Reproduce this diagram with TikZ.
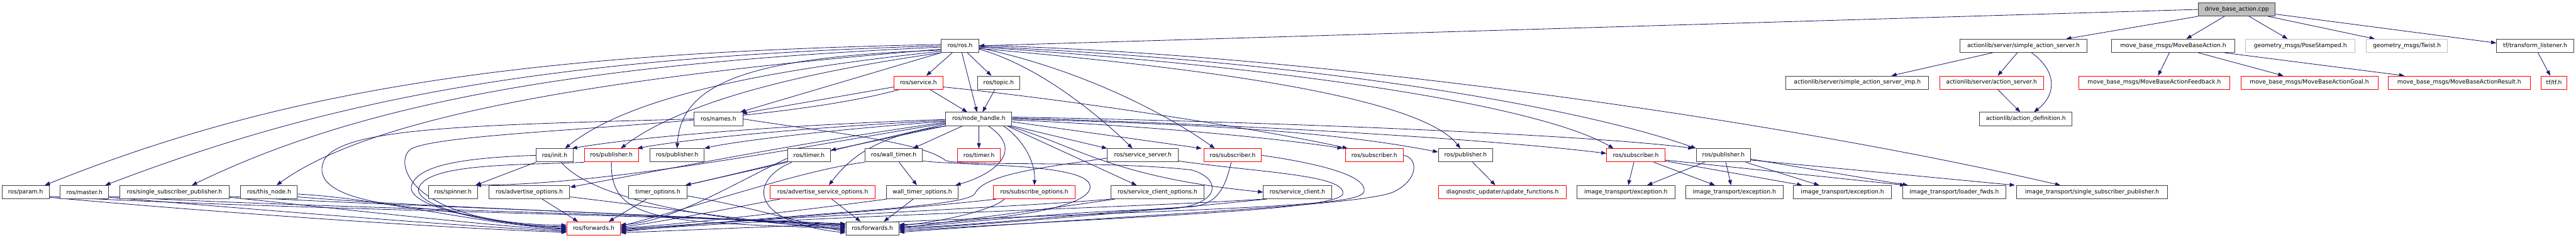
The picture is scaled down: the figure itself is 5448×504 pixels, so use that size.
\documentclass[tikz,border=0pt]{standalone}
\usepackage{fontspec}
\setmainfont{DejaVu Sans}
\usetikzlibrary{arrows.meta}
\definecolor{edgeblue}{HTML}{191970}
\definecolor{nodered}{HTML}{FF0000}
\definecolor{nodegray}{HTML}{BFBFBF}
\definecolor{nodeborder}{HTML}{404040}
\newcommand\lblfont{\fontsize{12.2pt}{14pt}\selectfont}
\pgfdeclarelayer{bglayer}
\pgfdeclarelayer{edgelayer}
\pgfsetlayers{bglayer,edgelayer,main}
\tikzset{
  box/.style={draw=nodeborder, line width=1.3pt, fill=white, minimum height=28pt, inner sep=0pt, font=\lblfont, text=black},
  redbox/.style={box, draw=nodered},
  graybox/.style={box, draw=nodegray},
  rootbox/.style={box, fill=nodegray},
  dep/.style={draw=edgeblue, line width=1.1pt, -{Triangle[length=11pt,width=8pt]}},
}
\begin{document}
\begin{tikzpicture}[x=1pt,y=-1pt]
\begin{pgfonlayer}{bglayer}
\fill[white] (0,0) rectangle (5448,504);
\end{pgfonlayer}
\useasboundingbox (0,0) rectangle (5448,504);
% row 0
\node[rootbox, minimum width=163pt] (root) at (4730.5,20) {drive\_base\_action.cpp};
% row 1
\node[box, minimum width=79pt] (ros) at (2030.5,97) {ros/ros.h};
\node[box, minimum width=269pt] (sas) at (4279.5,97) {actionlib/server/simple\_action\_server.h};
\node[box, minimum width=260pt] (mba) at (4596,97) {move\_base\_msgs/MoveBaseAction.h};
\node[graybox, minimum width=232pt] (pose) at (4865,97) {geometry\_msgs/PoseStamped.h};
\node[graybox, minimum width=171pt] (twist) at (5090.5,97) {geometry\_msgs/Twist.h};
\node[box, minimum width=163pt] (tfl) at (5361.5,97) {tf/transform\_listener.h};
% row 2
\node[redbox, minimum width=103pt] (service) at (1942.5,175) {ros/service.h};
\node[box, minimum width=90pt] (topic) at (2112,175) {ros/topic.h};
\node[box, minimum width=302pt] (sasimp) at (3928,175) {actionlib/server/simple\_action\_server\_imp.h};
\node[redbox, minimum width=220pt] (as) at (4212,175) {actionlib/server/action\_server.h};
\node[redbox, minimum width=320pt] (fb) at (4556,175) {move\_base\_msgs/MoveBaseActionFeedback.h};
\node[redbox, minimum width=290pt] (goal) at (4884,175) {move\_base\_msgs/MoveBaseActionGoal.h};
\node[redbox, minimum width=300pt] (result) at (5201,175) {move\_base\_msgs/MoveBaseActionResult.h};
\node[redbox, minimum width=55pt] (tf) at (5401.5,175) {tf/tf.h};
% row 3
\node[box, minimum width=103pt] (names) at (1519.5,252) {ros/names.h};
\node[box, minimum width=140pt] (nh) at (2070,252) {ros/node\_handle.h};
\node[box, minimum width=195pt] (ad) at (4284.5,252) {actionlib/action\_definition.h};
% row 4
\node[box, minimum width=78pt] (init) at (1173,329) {ros/init.h};
\node[redbox, minimum width=114pt] (pubR) at (1293,329) {ros/publisher.h};
\node[box, minimum width=114pt] (pub1) at (1432,329) {ros/publisher.h};
\node[box, minimum width=90pt] (timer) at (1711,329) {ros/timer.h};
\node[box, minimum width=122pt] (wtimer) at (1890,329) {ros/wall\_timer.h};
\node[redbox, minimum width=91pt] (timerR) at (2070.5,329) {ros/timer.h};
\node[box, minimum width=150pt] (ss) at (2417,329) {ros/service\_server.h};
\node[redbox, minimum width=122pt] (sub1) at (2607,329) {ros/subscriber.h};
\node[redbox, minimum width=123pt] (sub2) at (2906.5,329) {ros/subscriber.h};
\node[box, minimum width=115pt] (pub2) at (3099.5,329) {ros/publisher.h};
\node[redbox, minimum width=123pt] (sub3) at (3459.5,329) {ros/subscriber.h};
\node[box, minimum width=114pt] (pub3) at (3645,329) {ros/publisher.h};
% row 5
\node[box, minimum width=100pt] (param) at (54,407) {ros/param.h};
\node[box, minimum width=103pt] (master) at (178.5,407) {ros/master.h};
\node[box, minimum width=232pt] (ssp) at (369,407) {ros/single\_subscriber\_publisher.h};
\node[box, minimum width=120pt] (thisnode) at (569,407) {ros/this\_node.h};
\node[box, minimum width=104pt] (spinner) at (958,407) {ros/spinner.h};
\node[box, minimum width=171pt] (advo) at (1119.5,407) {ros/advertise\_options.h};
\node[box, minimum width=123pt] (tops) at (1391.5,407) {timer\_options.h};
\node[redbox, minimum width=222pt] (asopts) at (1740,407) {ros/advertise\_service\_options.h};
\node[box, minimum width=151pt] (wtops) at (1950.5,407) {wall\_timer\_options.h};
\node[redbox, minimum width=173pt] (subopts) at (2187.5,407) {ros/subscribe\_options.h};
\node[box, minimum width=198pt] (scopts) at (2448,407) {ros/service\_client\_options.h};
\node[box, minimum width=144pt] (sc) at (2744,407) {ros/service\_client.h};
\node[redbox, minimum width=271pt] (duf) at (3177.5,407) {diagnostic\_updater/update\_functions.h};
\node[box, minimum width=207pt] (ex1) at (3438.5,407) {image\_transport/exception.h};
\node[box, minimum width=206pt] (ex2) at (3668,407) {image\_transport/exception.h};
\node[box, minimum width=207pt] (ex3) at (3896.5,407) {image\_transport/exception.h};
\node[box, minimum width=218pt] (lf) at (4133,407) {image\_transport/loader\_fwds.h};
\node[box, minimum width=319pt] (itssp) at (4424.5,407) {image\_transport/single\_subscriber\_publisher.h};
% row 6
\node[redbox, minimum width=113pt] (f1) at (1255.5,484) {ros/forwards.h};
\node[box, minimum width=112pt] (f2) at (1845,484) {ros/forwards.h};

\begin{pgfonlayer}{edgelayer}
% drive_base_action.cpp
\draw[dep] (root.west) -- (ros.east);
\draw[dep] (root.south west) -- ([xshift=90pt]sas.north);
\draw[dep] ([xshift=-26pt]root.south) -- ([xshift=28pt]mba.north);
\draw[dep] ([xshift=26pt]root.south) -- ([xshift=-27pt]pose.north);
\draw[dep] ([xshift=-16pt]root.south east) -- ([xshift=-68pt]twist.north);
\draw[dep] ([yshift=-10pt]root.east) -- ([yshift=6pt]tfl.west);
% actionlib, move_base, tf
\draw[dep] ([xshift=-65pt]sas.south) -- ([xshift=72pt]sasimp.north);
\draw[dep] ([xshift=-13pt]sas.south) -- ([xshift=13pt]as.north);
\draw[dep] ([xshift=17pt]sas.south) .. controls (4350,150) and (4350,200) .. ([xshift=17pt]ad.north);
\draw[dep] ([xshift=13pt]as.south) -- ([xshift=-12pt]ad.north);
\draw[dep] ([xshift=-8pt]mba.south) -- ([xshift=8pt]fb.north);
\draw[dep] ([xshift=53pt]mba.south) -- ([xshift=-55pt]goal.north);
\draw[dep] ([xshift=108pt]mba.south) -- ([xshift=-116pt]result.north);
\draw[dep] ([xshift=6pt]tfl.south) -- ([xshift=-8pt]tf.north);
% ros/ros.h
\draw[dep] (ros.176) .. controls (1100,112) and (600,190) .. ([xshift=-10pt]param.north east);
\draw[dep] (ros.180) .. controls (1150,122) and (700,210) .. ([xshift=-8pt]master.north east);
\draw[dep] (ros.184) .. controls (1200,135) and (750,225) .. ([xshift=37pt]ssp.north);
\draw[dep] (ros.190) .. controls (1250,165) and (780,250) .. ([xshift=16pt]thisnode.north);
\draw[dep] (ros.196) .. controls (1700,140) and (1350,190) .. ([xshift=22pt]init.north);
\draw[dep] (ros.200) .. controls (1720,150) and (1450,210) .. ([xshift=20pt]pubR.north);
\draw[dep] (ros.193) .. controls (1600,120) and (1440,170) .. (pub1.north);
\draw[dep] (ros.south west) -- ([xshift=-6pt]names.north east);
\draw[dep] (ros) -- (service);
\draw[dep] (ros) -- (nh);
\draw[dep] (ros) -- (topic);
\draw[dep] (ros.-10) .. controls (2200,140) and (2330,250) .. ([xshift=-22pt]ss.north);
\draw[dep] (ros.-6) .. controls (2300,150) and (2480,250) .. ([xshift=-38pt]sub1.north);
\draw[dep] (ros.-8) .. controls (2500,140) and (3000,200) .. ([xshift=-11pt]pub2.north);
\draw[dep] (ros.-4) .. controls (2700,140) and (3250,220) .. ([xshift=-47pt]sub3.north);
\draw[dep] (ros.-2) .. controls (2800,130) and (3350,230) .. ([xshift=-58pt]pub3.north);
\draw[dep] (ros.1) .. controls (2700,110) and (3700,240) .. ([xshift=-67pt]itssp.north);
% ros/service.h
\draw[dep] (service.190) -- ([xshift=-3pt,yshift=-3pt]names.north east);
\draw[dep] (service) -- (nh);
\draw[dep] (service.200) .. controls (1600,272) and (960,272) .. (870,315) .. controls (830,340) and (860,474) .. ([yshift=7pt]f1.west);
\draw[dep] (service.-10) .. controls (2300,215) and (2700,280) .. ([xshift=-56pt]sub2.north);
% ros/topic.h
\draw[dep] (topic) -- (nh);
% ros/names.h
\draw[dep] (names.west) .. controls (1000,265) and (720,270) .. (685,340) .. controls (660,400) and (750,428) .. (900,442) .. controls (1000,452) and (1100,482) .. (f1.west);
\draw[dep] (names.east) .. controls (1750,280) and (1950,300) .. (2000,340) .. controls (2030,352) and (2350,340) .. (2520,360) .. controls (2590,380) and (2580,440) .. (2460,443) .. controls (2200,450) and (2000,478) .. ([yshift=4pt]f2.east);
% ros/init.h
\draw[dep] (init.south west) -- ([xshift=-5pt]spinner.north east);
\draw[dep] (init.west) .. controls (980,334) and (880,350) .. (870,395) .. controls (862,440) and (1050,476) .. ([yshift=2pt]f1.west);
\draw[dep] ([xshift=14pt]init.south) .. controls (1250,420) and (1500,470) .. ([yshift=2pt]f2.west);
% ros/publisher.h (red)
\draw[dep] (pubR.south west) .. controls (1100,350) and (900,345) .. (885,400) .. controls (880,440) and (1050,478) .. ([yshift=4pt]f1.west);
\draw[dep] (pubR.south) .. controls (1290,470) and (1400,470) .. (f2.west);
% left row-5 nodes
\draw[dep] ([yshift=-11pt]param.east) .. controls (400,445) and (900,482) .. ([yshift=-8pt]f1.west);
\draw[dep] ([yshift=-9pt]param.east) .. controls (500,440) and (1350,455) .. ([yshift=10pt]f2.west);
\draw[dep] ([yshift=-11pt]master.east) .. controls (500,440) and (950,478) .. ([yshift=-6pt]f1.west);
\draw[dep] ([yshift=-9pt]master.east) .. controls (600,438) and (1350,452) .. ([yshift=8pt]f2.west);
\draw[dep] ([yshift=-11pt]ssp.east) .. controls (700,440) and (1000,475) .. ([yshift=-4pt]f1.west);
\draw[dep] ([yshift=-9pt]ssp.east) .. controls (800,435) and (1350,450) .. ([yshift=6pt]f2.west);
\draw[dep] ([yshift=-4pt]thisnode.east) .. controls (800,420) and (1000,472) .. ([yshift=-2pt]f1.west);
\draw[dep] ([yshift=-10pt]thisnode.east) .. controls (900,440) and (1350,450) .. ([yshift=4pt]f2.west);
\draw[dep] ([xshift=27pt]advo.south) -- ([xshift=-33pt]f1.north);
\draw[dep] ([yshift=-10pt]advo.east) .. controls (1400,440) and (1600,470) .. ([yshift=-3pt]f2.west);
\draw[dep] ([xshift=-24pt]tops.south) -- ([xshift=32pt]f1.north);
\draw[dep] ([yshift=-8pt]tops.east) .. controls (1600,440) and (1700,475) .. ([yshift=-6pt]f2.west);
% ros/timer.h
\draw[dep] (timer.south west) -- ([xshift=-4pt]tops.north east);
\draw[dep] ([yshift=-6pt]timer.west) .. controls (1550,390) and (1420,470) .. ([yshift=8pt]f1.east);
\draw[dep] ([xshift=-36pt]timer.south) .. controls (1585,380) and (1580,470) .. ([yshift=-9pt]f2.west);
% ros/wall_timer.h
\draw[dep] (wtimer) -- (wtops);
\draw[dep] (wtimer.south west) .. controls (1700,360) and (1500,430) .. ([yshift=5pt]f1.east);
\draw[dep] ([yshift=-12pt]wtimer.east) .. controls (2050,352) and (2320,345) .. (2305,400) .. controls (2290,450) and (2050,470) .. ([yshift=8pt]f2.east);
% options
\draw[dep] ([xshift=-90pt]asopts.south) .. controls (1550,440) and (1400,470) .. ([yshift=3pt]f1.east);
\draw[dep] ([xshift=19pt]asopts.south) -- ([xshift=-25pt]f2.north);
\draw[dep] ([xshift=-75pt]wtops.south) .. controls (1700,445) and (1450,475) .. ([yshift=1pt]f1.east);
\draw[dep] ([xshift=-19pt]wtops.south) -- ([xshift=24pt]f2.north);
\draw[dep] ([xshift=-80pt]subopts.south) .. controls (1950,440) and (1500,475) .. ([yshift=-1pt]f1.east);
\draw[dep] ([xshift=-63pt]subopts.south) .. controls (2100,445) and (1990,470) .. ([yshift=6pt]f2.east);
\draw[dep] (scopts.south west) .. controls (2200,436) and (1600,462) .. ([yshift=-3pt]f1.east);
\draw[dep] ([xshift=10pt]scopts.south west) .. controls (2200,445) and (2000,470) .. ([yshift=0pt]f2.east);
\draw[dep] (sc.south west) .. controls (2400,440) and (1700,458) .. ([yshift=-5pt]f1.east);
\draw[dep] ([xshift=8pt]sc.south west) .. controls (2400,450) and (2050,478) .. ([yshift=-2pt]f2.east);
% service server, subscribers
\draw[dep] ([yshift=-6pt]ss.west) .. controls (2200,355) and (2080,370) .. (2062,410) .. controls (2045,440) and (1700,450) .. ([yshift=-7pt]f1.east);
\draw[dep] ([yshift=-12pt]ss.east) .. controls (2660,365) and (2845,370) .. (2840,410) .. controls (2838,445) and (2400,458) .. ([yshift=-5pt]f2.east);
\draw[dep] ([xshift=-3pt]sub1.south) .. controls (2590,400) and (2575,432) .. (2520,438) .. controls (2300,450) and (2050,480) .. ([yshift=2pt]f2.east);
\draw[dep] (sub1.east) .. controls (2780,345) and (2890,370) .. (2885,405) .. controls (2880,440) and (2600,440) .. ([yshift=-9pt]f1.east);
\draw[dep] (sub2.east) .. controls (3000,335) and (3000,380) .. (2950,405) .. controls (2900,435) and (2400,455) .. ([yshift=-8pt]f2.east);
% ros/node_handle.h
\draw[dep] (nh) -- (timerR);
\draw[dep] ([xshift=-34pt]nh.south) -- ([xshift=41pt]wtimer.north);
\draw[dep] (nh.south west) -- ([yshift=-4pt]timer.north east);
\draw[dep] ([yshift=-5pt]nh.west) .. controls (1750,275) and (1550,300) .. (pub1.north east);
\draw[dep] ([yshift=-3pt]nh.west) .. controls (1700,270) and (1450,295) .. ([xshift=-3pt]pubR.north east);
\draw[dep] ([yshift=-1pt]nh.west) .. controls (1650,265) and (1350,290) .. ([xshift=-3pt]init.north east);
\draw[dep] ([yshift=-7pt]nh.west) .. controls (1700,300) and (1350,370) .. ([yshift=-4pt]advo.north east);
\draw[dep] ([yshift=-9pt]nh.west) .. controls (1700,310) and (1300,390) .. ([xshift=-4pt]spinner.north east);
\draw[dep] ([yshift=-11pt]nh.west) .. controls (1750,320) and (1550,370) .. ([xshift=-4pt]tops.north east);
\draw[dep] ([xshift=3pt]nh.south west) .. controls (1860,285) and (1800,330) .. ([xshift=13pt]asopts.north);
\draw[dep] ([xshift=20pt]nh.south) .. controls (2170,320) and (2100,370) .. ([xshift=-6pt]wtops.north east);
\draw[dep] ([xshift=52pt]nh.south) .. controls (2170,300) and (2190,350) .. (subopts.north);
\draw[dep] ([xshift=60pt]nh.south) -- ([xshift=-44pt]scopts.north);
\draw[dep] ([xshift=-8pt]nh.south east) .. controls (2280,310) and (2350,375) .. (sc.west);
\draw[dep] (nh.south east) -- (ss.north west);
\draw[dep] ([yshift=-6pt]nh.east) -- ([xshift=-4pt]sub1.north west);
\draw[dep] ([yshift=-2pt]nh.east) .. controls (2500,270) and (2750,300) .. ([xshift=-5pt]sub2.north west);
\draw[dep] (nh.east) .. controls (2500,262) and (2800,275) .. ([yshift=7pt]pub2.west);
\draw[dep] ([yshift=2pt]nh.east) .. controls (2700,265) and (3200,300) .. ([yshift=4pt]sub3.west);
\draw[dep] ([yshift=4pt]nh.east) .. controls (2800,260) and (3400,290) .. ([xshift=-6pt]pub3.north west);
% right side headers
\draw[dep] ([xshift=15pt]pub2.south) -- ([xshift=-15pt]duf.north);
\draw[dep] ([xshift=-4pt]sub3.south) -- ([xshift=5pt]ex1.north);
\draw[dep] ([xshift=38pt]sub3.south) -- ([xshift=-41pt]ex2.north);
\draw[dep] ([yshift=-12pt]sub3.east) -- ([xshift=-85pt]ex3.north);
\draw[dep] ([yshift=-10pt]sub3.east) -- ([xshift=6pt]lf.north west);
\draw[dep] ([xshift=-40pt]pub3.south) -- ([xshift=45pt]ex1.north);
\draw[dep] ([xshift=5pt]pub3.south) -- ([xshift=-7pt]ex2.north);
\draw[dep] ([xshift=47pt]pub3.south) -- ([xshift=-49pt]ex3.north);
\draw[dep] ([yshift=-8pt]pub3.east) -- ([xshift=12pt]lf.north west);
\draw[dep] ([yshift=-10pt]pub3.east) -- ([xshift=-3pt]itssp.north west);
\end{pgfonlayer}
\end{tikzpicture}
\end{document}
